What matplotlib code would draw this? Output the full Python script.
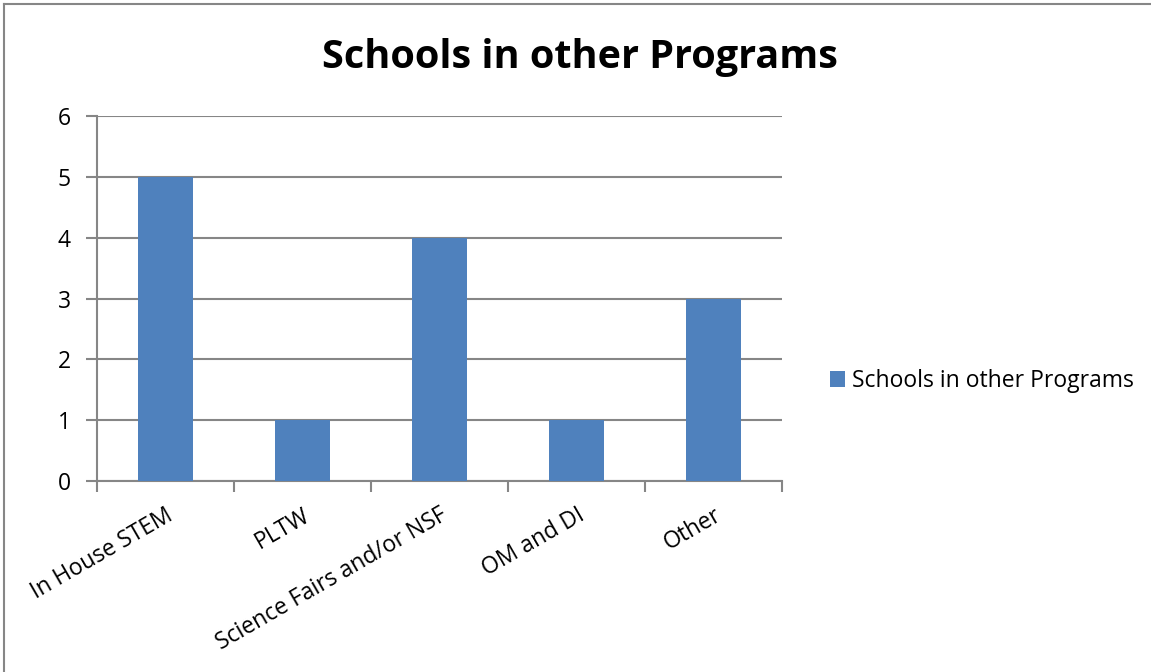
import matplotlib
matplotlib.use("agg")
import matplotlib.pyplot as plt
from matplotlib.lines import Line2D
import numpy as np

plt.rcParams['font.family'] = ['Open Sans', 'DejaVu Sans']

title = "Schools in other Programs"
programs = ["In House STEM", "PLTW", "Science Fairs and/or NSF", "OM and DI", "Other"]
schools = [5, 1, 4, 1, 3]

bar_color = '#4F81BD'
axis_gray = '#868686'

fig = plt.figure(figsize=(11.51, 6.72), dpi=100)
ax = fig.add_axes([0.0843, 0.2842, 0.5951, 0.5432])

x = np.arange(len(programs))
ax.bar(x, schools, width=0.4, color=bar_color, label=title, zorder=3)

ax.set_xlim(-0.5, len(programs) - 0.5)
ax.set_ylim(0, 6)
ax.set_yticks(range(0, 7))
ax.yaxis.grid(True, color=axis_gray, linewidth=1.5, zorder=0)

# category labels sit between the boundary tick marks
ax.set_xticks(np.arange(len(programs) + 1) - 0.5)
ax.set_xticklabels([])
ax.set_xticks(x, minor=True)
ax.set_xticklabels(programs, minor=True, rotation=30, ha='right',
                   rotation_mode='anchor', fontsize=16.5)
ax.tick_params(axis='x', which='minor', length=0, pad=16)
ax.tick_params(axis='x', which='major', length=8, width=1.5, color=axis_gray, direction='out')
ax.tick_params(axis='y', length=8, width=1.5, color=axis_gray, labelsize=16.5, pad=11)

for side in ['top', 'right']:
    ax.spines[side].set_visible(False)
for side in ['left', 'bottom']:
    ax.spines[side].set_color(axis_gray)
    ax.spines[side].set_linewidth(1.5)

fig.text(0.504, 0.915, title, ha='center', va='center', fontsize=28.5, fontweight='bold')

ax.legend(loc='center left', bbox_to_anchor=(1.04, 0.274), frameon=False,
          fontsize=16.5, handlelength=0.65, handleheight=0.65, handletextpad=0.3)

# chart border (cropped at right and bottom)
fig.add_artist(Line2D([0.0039, 0.0039], [0, 0.994], transform=fig.transFigure,
                      color=axis_gray, linewidth=1.5))
fig.add_artist(Line2D([0.0039, 1], [0.994, 0.994], transform=fig.transFigure,
                      color=axis_gray, linewidth=1.5))

plt.savefig('out.png', dpi=100)
